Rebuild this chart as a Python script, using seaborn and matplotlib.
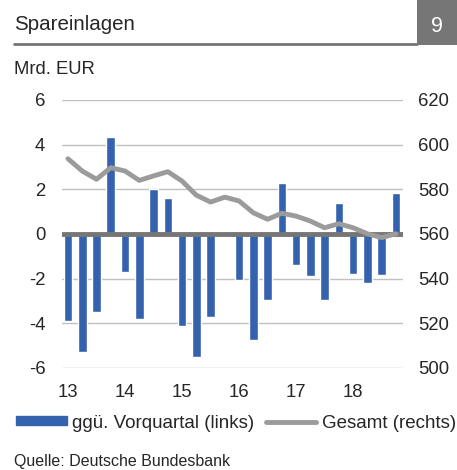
import matplotlib
matplotlib.use("Agg")
import matplotlib.pyplot as plt
import numpy as np
import pandas as pd
import seaborn as sns
from matplotlib.lines import Line2D
from matplotlib.patches import Patch, Rectangle

# quarterly data 2013Q1 .. 2018Q4
quarters = [f"{y}Q{q}" for y in range(13, 19) for q in range(1, 5)]
change = [-3.9, -5.3, -3.5, 4.35, -1.7, -3.8, 2.0, 1.6, -4.1, -5.5, -3.7, 0.0,
          -2.05, -4.75, -2.95, 2.3, -1.4, -1.9, -2.95, 1.4, -1.8, -2.2, -1.85, 1.85]
total = [593.7, 588.2, 584.5, 589.7, 588.2, 584.0, 586.0, 587.9, 583.7, 577.4, 574.3, 576.5,
         574.8, 569.5, 566.6, 569.3, 568.0, 565.8, 562.8, 564.6, 562.8, 560.1, 558.4, 560.1]
year_labels = ["13", "14", "15", "16", "17", "18"]

BLUE = "#3462AE"
LINE_GREY = "#9B9B9B"
DARK_GREY = "#767676"
GRID = "#C0C0C0"
FS = 13.3

sns.set_style("white")
plt.rcParams["font.family"] = ["Liberation Sans", "DejaVu Sans"]
plt.rcParams["axes.unicode_minus"] = False

df = pd.DataFrame({"quarter": quarters, "change": change, "total": total})
df["pos"] = np.arange(len(df))

fig = plt.figure(figsize=(4.57, 4.70), dpi=100)
W, H = 457, 470
ax = fig.add_axes([62 / W, 1 - 368 / H, (403 - 62) / W, (368 - 100) / H])

sns.barplot(df, x="quarter", y="change", color=BLUE, width=0.6, saturation=1, ax=ax, zorder=2)
ax.set_ylim(-6, 6)
ax.set_yticks(range(-6, 7, 2))
ax.set_xlim(-0.42, 23.5)
ax.set_xticks(range(0, 24, 4))
ax.set_xticklabels(year_labels)
ax.yaxis.grid(True, color=GRID, lw=1)
ax.set_axisbelow(True)
ax.axhline(0, color=DARK_GREY, lw=3.5, zorder=3)
ax.set(xlabel="", ylabel="")
ax.tick_params(axis="y", length=0, pad=12, labelsize=FS)
ax.tick_params(axis="x", length=0, pad=11.5, labelsize=FS)
for s in ax.spines.values():
    s.set_visible(False)

ax2 = ax.twinx()
sns.lineplot(df, x="pos", y="total", color=LINE_GREY, lw=3.5, ax=ax2, zorder=4)
ax2.set_ylim(500, 620)
ax2.set_yticks(range(500, 621, 20))
ax2.set_xlim(-0.42, 23.5)
ax2.set(xlabel="", ylabel="")
ax2.tick_params(axis="y", length=0, pad=11, labelsize=FS)
for s in ax2.spines.values():
    s.set_visible(False)

# header
fig.text(14 / W, 1 - 29.5 / H, "Spareinlagen", fontsize=14.8, va="baseline", ha="left")
fig.add_artist(Line2D([14 / W, 417 / W], [1 - 44 / H, 1 - 44 / H], color=DARK_GREY, lw=2))
fig.add_artist(Rectangle((417 / W, 1 - 45 / H), 40 / W, 45 / H, color=DARK_GREY, lw=0))
fig.text(437 / W, 1 - 32 / H, "9", fontsize=15.5, color="white", va="baseline", ha="center")
fig.text(14 / W, 1 - 74 / H, "Mrd. EUR", fontsize=FS, va="baseline", ha="left")

handles = [Patch(color=BLUE), Line2D([], [], color=LINE_GREY, lw=3.5)]
fig.legend(handles, ["ggü. Vorquartal (links)", "Gesamt (rechts)"], loc="center left",
           bbox_to_anchor=(16 / W, 1 - 423 / H), ncol=2, frameon=False, fontsize=13.5,
           handlelength=2.7, handleheight=0.37, handletextpad=0.3, columnspacing=0.6,
           borderaxespad=0, borderpad=0)

fig.text(14 / W, 1 - 466 / H, "Quelle: Deutsche Bundesbank", fontsize=11.5, va="baseline", ha="left")

fig.savefig("out.png", dpi=100)
